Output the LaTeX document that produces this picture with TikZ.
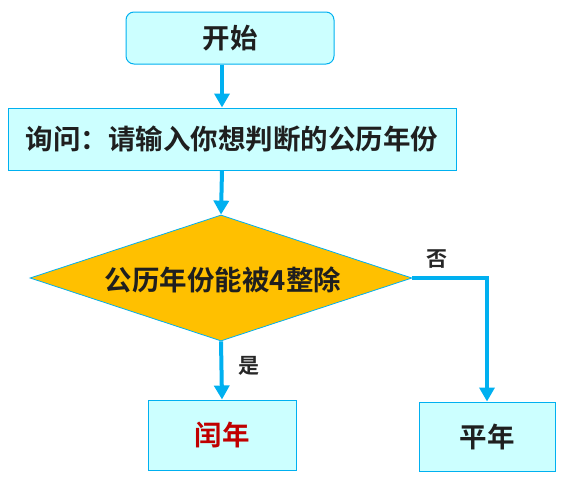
\documentclass[tikz,border=0pt]{standalone}
\usepackage{fontspec}
\setmainfont{Noto Sans CJK SC}[BoldFont={* Bold}]
\usetikzlibrary{shapes.geometric,arrows.meta}
\definecolor{bblue}{HTML}{00B0F0}
\definecolor{lcyan}{HTML}{CCFFFF}
\definecolor{gold}{HTML}{FFC000}
\definecolor{dred}{HTML}{C00000}
\begin{document}
\begin{tikzpicture}[x=1pt,y=-1pt,
  boxstyle/.style={draw=bblue,line width=1pt,fill=lcyan,inner sep=0pt,font=\fontsize{27.5}{32}\selectfont\bfseries,text=black!88},
  flow/.style={draw=bblue,line width=4pt,-{Triangle[width=15pt,length=14pt]}},
  lbl/.style={font=\fontsize{21}{24}\selectfont\bfseries,text=black!85}]
\useasboundingbox (0,0) rectangle (564,479);
\node[boxstyle,rounded corners=8pt,minimum width=208pt,minimum height=52pt] (start) at (230,38) {开始};
\node[boxstyle,minimum width=448pt,minimum height=62pt] (ask) at (232,139) {询问：请输入你想判断的公历年份};
\node[draw=bblue,line width=0.8pt,fill=gold,diamond,aspect=3.03,inner sep=0pt,minimum width=382pt,minimum height=126pt] (dec) at (221,278) {};
\node[font=\fontsize{27.5}{32}\selectfont\bfseries,text=black!88] (dtext) at (223,280) {公历年份能被4整除};
\node[boxstyle,minimum width=148pt,minimum height=70pt,text=dred] (leap) at (222,435) {闰年};
\node[boxstyle,minimum width=136pt,minimum height=69pt] (common) at (487,436.5) {平年};
\draw[flow] (start.south -| 222,0) -- (ask.north -| 222,0);
\draw[flow] (ask.south -| 222,0) -- (dec.north);
\draw[flow] (dec.south) -- (leap.north);
\coordinate (corner) at (487,278);
\draw[flow] (dec.east) -- (corner) -- (common.north);
\node[lbl] (no) at (437,259) {否};
\node[lbl] (yes) at (249,366) {是};
\end{tikzpicture}
\end{document}
